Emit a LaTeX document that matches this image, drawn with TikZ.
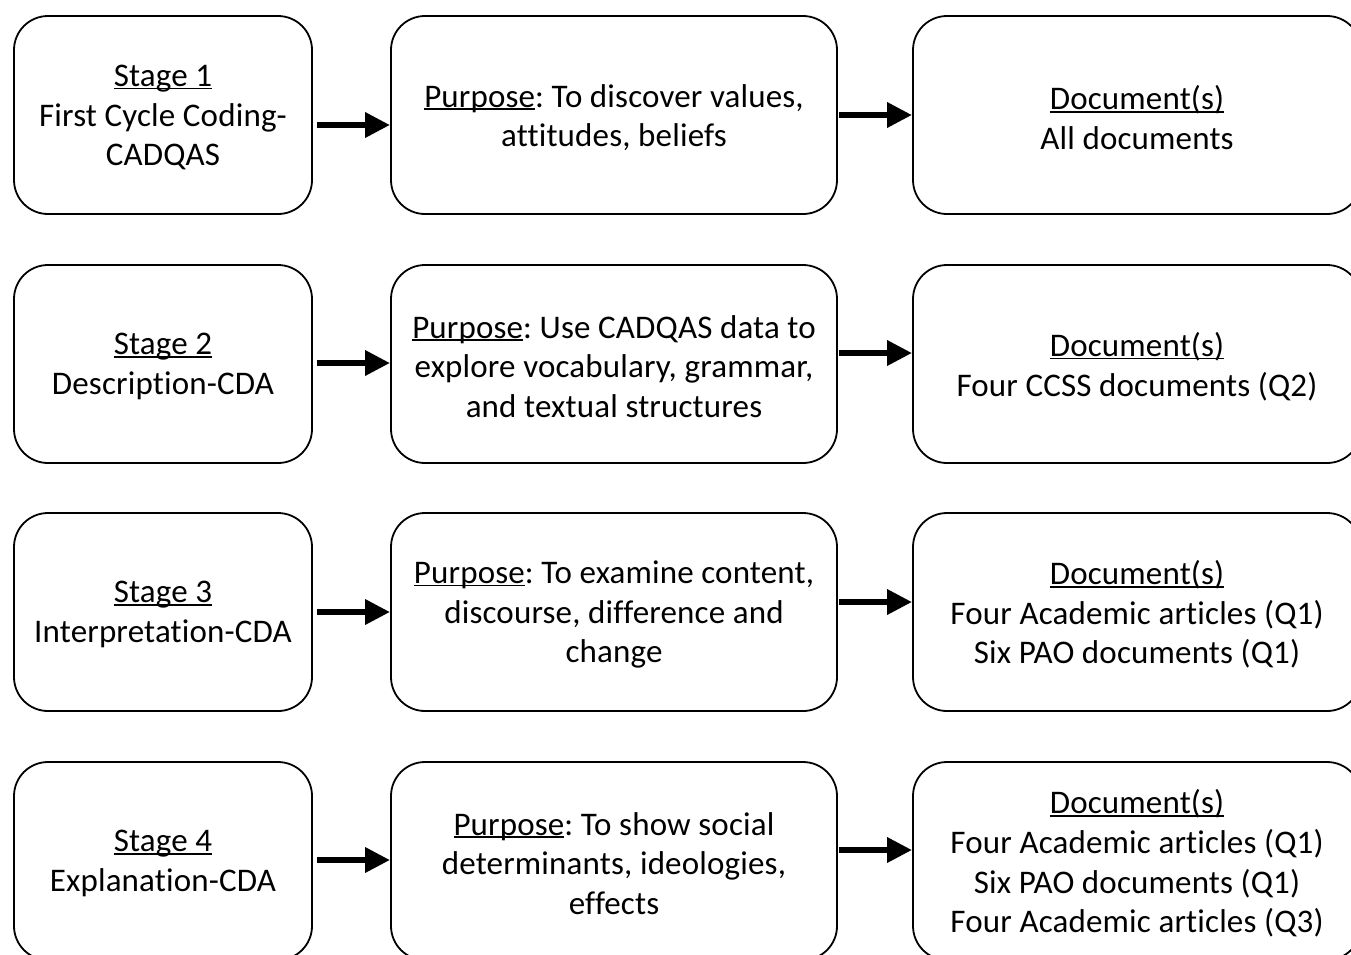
\documentclass[tikz,border=0pt]{standalone}
\usepackage{fontspec}
\setmainfont[Ligatures={NoCommon},LetterSpace=0.5]{Carlito}
\usetikzlibrary{arrows.meta,calc}
\frenchspacing
\newcommand\myul[1]{\setbox0\hbox{#1}\rlap{\rule[-3pt]{\wd0}{1.8pt}}\box0}
\begin{document}
\begin{tikzpicture}[x=1pt,y=-1pt,
  box/.style={draw=black,line width=1.8pt,rounded corners=34pt,minimum height=198pt,inner sep=0pt},
  stagebox/.style={box,minimum width=298pt},
  purpbox/.style={box,minimum width=446pt},
  docbox/.style={box,minimum width=448pt},
  txt/.style={align=center,inner sep=0pt,font=\fontsize{33}{39.7}\selectfont},
  arr/.style={line width=6.5pt,-{Triangle[length=25pt,width=24pt]}}]
\useasboundingbox (0,0) rectangle (1351,954);
\clip (0,0) rectangle (1351,954);
% boxes
\foreach \r/\y in {1/115,2/364,3/612,4/861}{
  \node[stagebox] (s\r) at (163,\y) {};
  \node[purpbox] (p\r) at (614,\y) {};
  \node[docbox] (d\r) at (1137,\y) {};
}
% texts
\node[txt] (s1t) at ($(s1.center)+(0,2.5)$) {\myul{Stage 1}\\First Cycle Coding-\\CADQAS};
\node[txt] (p1t) at ($(p1.center)+(0,2.5)$) {\myul{Purpose}: To discover values,\\attitudes, beliefs};
\node[txt] (d1t) at ($(d1.center)+(0,2.5)$) {\myul{Document(s)}\\All documents};
\node[txt] (s2t) at ($(s2.center)+(0,2.5)$) {\myul{Stage 2}\\Description-CDA};
\node[txt] (p2t) at ($(p2.center)+(0,2.5)$) {\myul{Purpose}: Use CADQAS data to\\explore vocabulary, grammar,\\and textual structures};
\node[txt] (d2t) at ($(d2.center)+(0,2.5)$) {\myul{Document(s)}\\Four CCSS documents (Q2)};
\node[txt] (s3t) at ($(s3.center)+(0,2.5)$) {\myul{Stage 3}\\Interpretation-CDA};
\node[txt] (p3t) at ($(p3.center)+(0,2.5)$) {\myul{Purpose}: To examine content,\\discourse, difference and\\change};
\node[txt] (d3t) at ($(d3.center)+(0,2.5)$) {\myul{Document(s)}\\Four Academic articles (Q1)\\Six PAO documents (Q1)};
\node[txt] (s4t) at ($(s4.center)+(0,2.5)$) {\myul{Stage 4}\\Explanation-CDA};
\node[txt] (p4t) at ($(p4.center)+(0,2.5)$) {\myul{Purpose}: To show social\\determinants, ideologies,\\effects};
\node[txt] (d4t) at ($(d4.center)+(0,2.5)$) {\myul{Document(s)}\\Four Academic articles (Q1)\\Six PAO documents (Q1)\\Four Academic articles (Q3)};
% arrows
\draw[arr] ($(s1.east)+(4,10)$) -- ($(p1.west)+(0,10)$);
\draw[arr] ($(p1.east)+(1,0)$) -- ($(d1.west)+(0,0)$);
\draw[arr] ($(s2.east)+(4,-1)$) -- ($(p2.west)+(0,-1)$);
\draw[arr] ($(p2.east)+(1,-11)$) -- ($(d2.west)+(0,-11)$);
\draw[arr] ($(s3.east)+(4,0)$) -- ($(p3.west)+(0,0)$);
\draw[arr] ($(p3.east)+(1,-10)$) -- ($(d3.west)+(0,-10)$);
\draw[arr] ($(s4.east)+(4,-1)$) -- ($(p4.west)+(0,-1)$);
\draw[arr] ($(p4.east)+(1,-11)$) -- ($(d4.west)+(0,-11)$);
\end{tikzpicture}
\end{document}
